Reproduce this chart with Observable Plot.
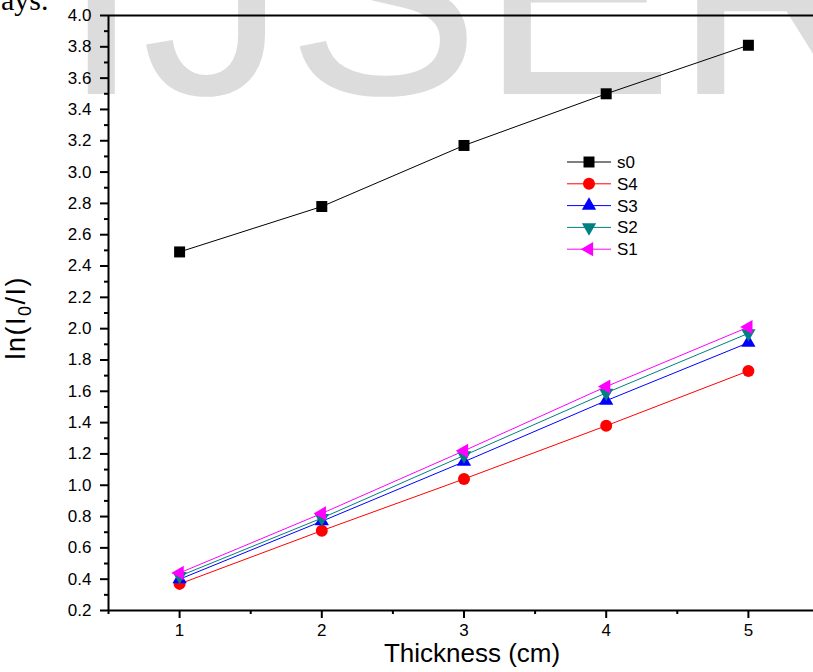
<!DOCTYPE html>
<html>
<head>
<meta charset="utf-8">
<script src="https://cdn.jsdelivr.net/npm/d3@7"></script>
<script src="https://cdn.jsdelivr.net/npm/@observablehq/plot@0.6"></script>
<style>
  body { margin: 0; background: #fff; }
  #wrap { position: relative; width: 813px; height: 672px; overflow: hidden; font-family: "Liberation Sans", Arial, sans-serif; background: #fff; }
  #wm { position: absolute; left: 61px; top: -152px; font-family: "Liberation Sans", Arial, sans-serif; font-size: 290px; color: #dcdcdc; white-space: nowrap; line-height: 1; }
  #ays { position: absolute; left: 1px; top: -15px; font-family: "Liberation Serif", "Times New Roman", serif; font-size: 30px; color: #000; white-space: nowrap; line-height: 1; }
  #chart { position: absolute; left: 0; top: 0; }
  #xlab { position: absolute; left: 0; width: 944px; text-align: center; font-size: 26px; white-space: nowrap; }
  #ylab { position: absolute; font-size: 27px; letter-spacing: 1.5px; white-space: nowrap; transform-origin: center center; }
  #ylab sub { font-size: 18px; }
  #legend { position: absolute; left: 567px; top: 151px; }
</style>
</head>
<body>
<div id="wrap">
  <div id="wm">IJSER</div>
  <div id="ays">ays.</div>
  <div id="chart"></div>
  <div id="xlab">Thickness (cm)</div>
  <div id="ylab">ln(I<sub>0</sub>/I)</div>
  <div id="legend"></div>
</div>
<script>
const thickness = [1, 2, 3, 4, 5];
const seriesNames = ["s0", "S4", "S3", "S2", "S1"];
const s0 = [2.49, 2.78, 3.17, 3.50, 3.81];
const S4 = [0.37, 0.71, 1.04, 1.38, 1.73];
const S3 = [0.40, 0.77, 1.15, 1.54, 1.91];
const S2 = [0.42, 0.79, 1.19, 1.59, 1.97];
const S1 = [0.44, 0.82, 1.22, 1.63, 2.01];
const seriesColors = ["#000000", "#ff0000", "#0000ff", "#008080", "#ff00ff"];
const yTicks = [0.2, 0.4, 0.6, 0.8, 1.0, 1.2, 1.4, 1.6, 1.8, 2.0, 2.2, 2.4, 2.6, 2.8, 3.0, 3.2, 3.4, 3.6, 3.8, 4.0];
const yMinor = [0.3, 0.5, 0.7, 0.9, 1.1, 1.3, 1.5, 1.7, 1.9, 2.1, 2.3, 2.5, 2.7, 2.9, 3.1, 3.3, 3.5, 3.7, 3.9];
const xTicks = [1, 2, 3, 4, 5];
const xMinor = [0.5, 1.5, 2.5, 3.5, 4.5];

const values = [s0, S4, S3, S2, S1];

// symbols
const sq3 = Math.sqrt(3);
const triDown = { draw(ctx, size) { const y = Math.sqrt(size / (sq3 * 3)); ctx.moveTo(0, 2 * y); ctx.lineTo(-sq3 * y, -y); ctx.lineTo(sq3 * y, -y); ctx.closePath(); } };
const triLeft = { draw(ctx, size) { const y = Math.sqrt(size / (sq3 * 3)); ctx.moveTo(-2 * y, 0); ctx.lineTo(y, -sq3 * y); ctx.lineTo(y, sq3 * y); ctx.closePath(); } };
const seriesSymbols = [d3.symbolSquare, d3.symbolCircle, d3.symbolTriangle, triDown, triLeft];
const seriesR = [6.2, 6, 5.3, 5.3, 5.3];

const rows = seriesNames.flatMap((name, i) => thickness.map((t, j) => ({ series: name, x: t, y: values[i][j] })));

const seriesMarks = seriesNames.flatMap((name, i) => {
  const d = rows.filter(r => r.series === name);
  return [
    Plot.line(d, { x: "x", y: "y", stroke: seriesColors[i], strokeWidth: 1 }),
    Plot.dot(d, { x: "x", y: "y", fill: seriesColors[i], r: seriesR[i], symbol: seriesSymbols[i] })
  ];
});

const chart = Plot.plot({
  width: 813,
  height: 672,
  marginLeft: 108,
  marginTop: 15,
  marginBottom: 62,
  marginRight: 0,
  style: { fontFamily: "Liberation Sans, Arial, sans-serif", background: "transparent", overflow: "visible" },
  x: { domain: [0.5, 5.5], range: [108, 819] },
  y: { domain: [0.2, 4.0] },
  marks: [
    Plot.axisY(yTicks, { tickSize: 8, tickPadding: 9, tickFormat: d3.format(".1f"), fontSize: 17, strokeWidth: 2, label: null }),
    Plot.axisY(yMinor, { tickSize: 4, tickFormat: () => "", strokeWidth: 2, label: null }),
    Plot.axisX(xTicks, { tickSize: 8, tickPadding: 5, tickFormat: d3.format("d"), fontSize: 17, strokeWidth: 2, label: null }),
    Plot.axisX(xMinor, { tickSize: 4, tickFormat: () => "", strokeWidth: 2, label: null }),
    Plot.ruleY([4.0], { strokeWidth: 2 }),
    Plot.ruleY([0.2], { strokeWidth: 2 }),
    Plot.ruleX([0.5], { strokeWidth: 2 }),
    ...seriesMarks
  ]
});
document.getElementById("chart").appendChild(chart);

// axis titles
const xl = document.getElementById("xlab");
xl.style.top = (662 - 26 * 0.93) + "px";
const yl = document.getElementById("ylab");
yl.style.left = "0px"; yl.style.top = "0px";
const rect = yl.getBoundingClientRect();
yl.style.left = (19 - rect.width / 2) + "px";
yl.style.top = (318 - rect.height / 2) + "px";
yl.style.transform = "rotate(-90deg)";

// legend
const rowH = 21.8;
const lsvg = d3.select("#legend").append("svg").attr("width", 120).attr("height", 5 * rowH + 4);
seriesNames.forEach((name, i) => {
  const g = lsvg.append("g").attr("transform", `translate(0,${i * rowH + 11})`);
  g.append("line").attr("x1", 0).attr("x2", 44).attr("y1", 0).attr("y2", 0).attr("stroke", seriesColors[i]).attr("stroke-width", 1);
  g.append("path").attr("transform", "translate(22,0)").attr("fill", seriesColors[i])
    .attr("d", d3.symbol(seriesSymbols[i], Math.PI * seriesR[i] * seriesR[i])());
  g.append("text").attr("x", 50).attr("y", 0).attr("dy", "0.35em").attr("font-size", 17)
    .attr("font-family", "Liberation Sans, Arial, sans-serif").text(name);
});
</script>
</body>
</html>
